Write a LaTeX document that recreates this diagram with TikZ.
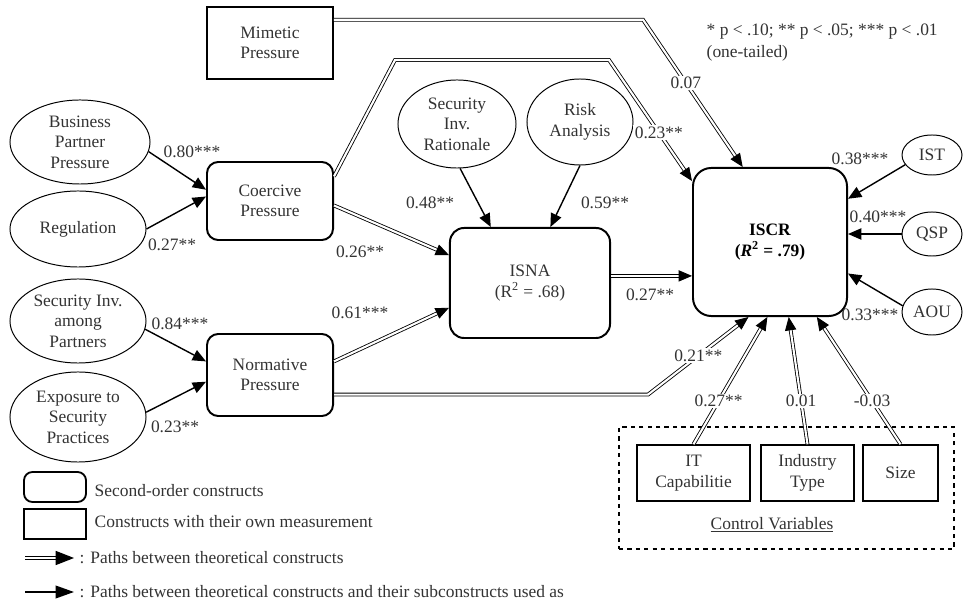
\documentclass[tikz,border=0pt]{standalone}
\usepackage{fontspec}
\setmainfont{Liberation Serif}
\usetikzlibrary{positioning,arrows.meta,calc,shapes.geometric}
\tikzset{
  fac/.style={ellipse,draw,line width=0.7pt,align=center,inner sep=0pt},   % first-order factor
  cons/.style={rectangle,rounded corners=8pt,draw,line width=1.4pt,align=center}, % second-order
  meas/.style={rectangle,draw,line width=1.3pt,align=center},              % own measurement
  dpath/.style={double,double distance=1.5pt,line width=0.6pt,
    -{Triangle[length=9.5pt,width=8pt]}},
  spath/.style={line width=1pt,-{Triangle[length=9.5pt,width=8pt]}},
  lbl/.style={inner sep=1pt},
  glbl/.style={lbl,fill=white},  % label that breaks the path
}

\begin{document}
\begin{tikzpicture}[x=0.025cm,y=-0.025cm,text=black!80,
    font=\fontsize{12.4}{14.5}\selectfont]
  \useasboundingbox (0,0) rectangle (968,602);
  % constructs
  \node[meas,minimum width=3.15cm,minimum height=1.8cm] (mim) at (270,43) {Mimetic\\Pressure};
  \node[fac,minimum width=3.5cm,minimum height=2.1cm] (bpp) at (80,142) {Business\\Partner\\Pressure};
  \node[fac,minimum width=3.4cm,minimum height=1.9cm] (reg) at (78,229) {Regulation};
  \node[cons,minimum width=3.15cm,minimum height=1.95cm] (coer) at (270,201) {Coercive\\Pressure};
  \node[fac,minimum width=3.4cm,minimum height=2.1cm] (sip) at (78,321) {Security Inv.\\among\\Partners};
  \node[fac,minimum width=3.4cm,minimum height=2.25cm] (esp) at (78,417) {Exposure to\\Security\\Practices};
  \node[cons,minimum width=3.15cm,minimum height=2.05cm] (norm) at (270,375) {Normative\\Pressure};
  \node[fac,minimum width=2.95cm,minimum height=2.2cm] (sir) at (457,124) {Security\\Inv.\\Rationale};
  \node[fac,minimum width=2.65cm,minimum height=2.15cm] (ra) at (580,122) {Risk\\Analysis};
  \node[cons,rounded corners=10pt,minimum width=4cm,minimum height=2.75cm] (isna) at (530,283)
    {ISNA\\(R\textsuperscript{2} = .68)};
  \node[cons,rounded corners=13pt,minimum width=3.85cm,minimum height=3.7cm,text=black] (iscr) at (770,242)
    {\textbf{ISCR}\\\textbf{(\textit{R}\textsuperscript{2} = .79)}};
  \node[fac,minimum width=1.5cm,minimum height=1cm] (ist) at (932,155) {IST};
  \node[fac,minimum width=1.5cm,minimum height=1.1cm] (qsp) at (932,234) {QSP};
  \node[fac,minimum width=1.5cm,minimum height=1.15cm] (aou) at (932,312) {AOU};
  % control variables
  \node[draw,dashed,line width=0.9pt,minimum width=8.375cm,minimum height=3.05cm] (ctrl) at (786.5,488) {};
  \node[meas,line width=1.1pt,minimum width=2.83cm,minimum height=1.4cm] (itc) at (693.5,473) {IT\\Capabilitie};
  \node[meas,line width=1.1pt,minimum width=2.33cm,minimum height=1.4cm] (ind) at (807.5,473) {Industry\\Type};
  \node[meas,line width=1.1pt,minimum width=1.88cm,minimum height=1.4cm] (size) at (900.5,473) {Size};
  \node[lbl] (ctrlt) at (772,525) {\underline{Control Variables}};
  \node[lbl,anchor=north west,align=left,font=\fontsize{12.4}{15.5}\selectfont] (note) at (705,22)
    {* p < .10; ** p < .05; *** p < .01\\(one-tailed)};

  % subconstruct paths
  \draw[spath] (bpp.-8) -- (coer.170);
  \draw[spath] (reg.east) -- (coer.176);
  \draw[spath] (sip.-7) -- (norm.168);
  \draw[spath] (esp.4) -- (norm.186);
  \draw[spath] (sir.-86) -- (isna.125);
  \draw[spath] (ra.south) -- (isna.70);
  \draw[spath] (ist.200) -- (iscr.29);
  \draw[spath] (qsp.west) -- (qsp.west -| iscr.east);
  \draw[spath] (aou.168) -- (iscr.-22);
  \node[lbl] (l80) at (192,152) {0.80***};
  \node[lbl] (l27a) at (172,245) {0.27**};
  \node[lbl] (l84) at (180,324) {0.84***};
  \node[lbl] (l23a) at (175,427) {0.23**};
  \node[lbl] (l48) at (430,203) {0.48**};
  \node[lbl] (l59) at (605,203) {0.59**};
  \node[lbl] (l38) at (860,159) {0.38***};
  \node[lbl] (l40) at (878,217) {0.40***};
  \node[lbl] (l33) at (870,315) {0.33***};

  % theoretical paths
  \coordinate (mk) at (643,0);
  \coordinate (ck1) at (395,60);
  \coordinate (ck2) at (609,60);
  \coordinate (nk) at (648,0);
  \draw[dpath] (mim.20) -- (mim.20 -| mk) -- node[glbl,pos=0.43]{0.07} (iscr.110);
  \draw[dpath] (coer.21) -- (ck1) -- (ck2) -- node[glbl,pos=0.6]{0.23**} (iscr.142);
  \draw[dpath] (coer.-4) -- (isna.161);
  \draw[dpath] (norm.12) -- (isna.197);
  \draw[dpath] (isna.5) -- (isna.5 -| iscr.west);
  \draw[dpath] (norm.-17.6) -- (norm.-17.6 -| nk) -- node[glbl,pos=0.5]{0.21**} (iscr.-106.7);
  \draw[dpath] (itc.north) -- node[glbl,pos=0.34]{0.27**} (iscr.-92);
  \draw[dpath] (ind.north) -- node[glbl,pos=0.34]{0.01} (iscr.-76);
  \draw[dpath] (size.north) -- node[glbl,pos=0.34]{-0.03} (iscr.-58.7);
  \node[lbl] (l26) at (360,252) {0.26**};
  \node[lbl] (l61) at (360,313) {0.61***};
  \node[lbl] (l27b) at (650,295) {0.27**};

  % legend
  \node[cons,rounded corners=6pt,line width=1.3pt,minimum width=1.55cm,minimum height=0.75cm] (lgc) at (55,487) {};
  \node[meas,minimum width=1.55cm,minimum height=0.75cm] (lgm) at (55,524) {};
  \node[lbl,anchor=west] (lgct) at (93,491) {Second-order constructs};
  \node[lbl,anchor=west] (lgmt) at (93,522) {Constructs with their own measurement};
  \coordinate (da) at (25,558);
  \coordinate (db) at (74,558);
  \draw[dpath,line width=0.8pt,-{Triangle[length=13pt,width=10pt]}] (da) -- (db);
  \node[lbl,anchor=west] (lgd) at (78,558) {: Paths between theoretical constructs};
  \coordinate (sa) at (25,592);
  \coordinate (sb) at (74,592);
  \draw[spath,-{Triangle[length=13pt,width=9pt]}] (sa) -- (sb);
  \node[lbl,anchor=west] (lgs) at (78,592) {: Paths between theoretical constructs and their subconstructs used as};
\end{tikzpicture}
\end{document}
